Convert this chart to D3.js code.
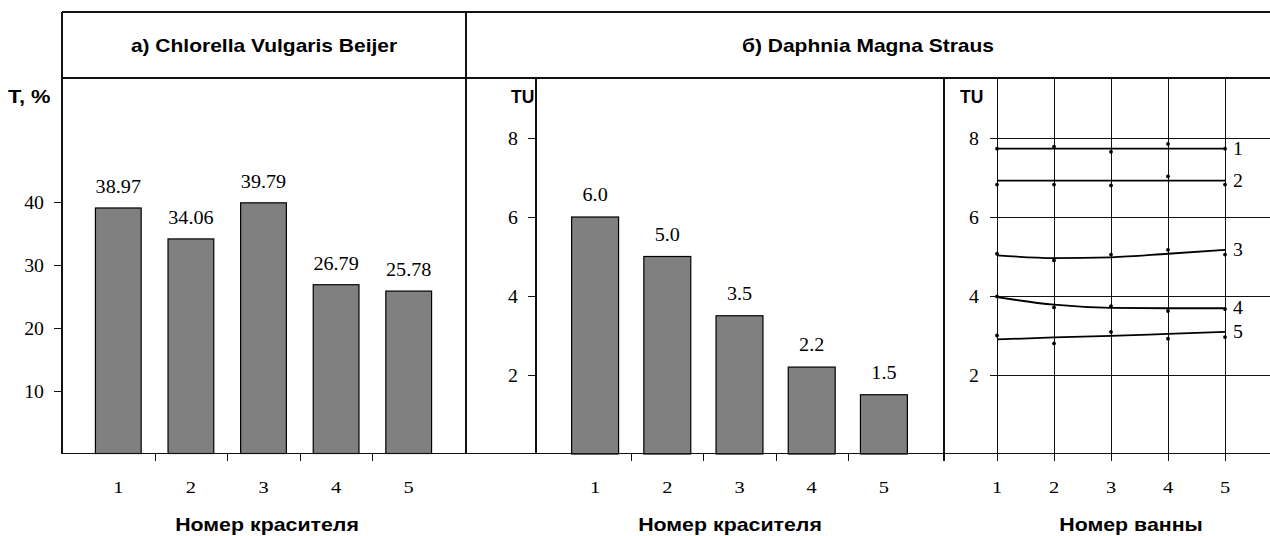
<!DOCTYPE html>
<html>
<head>
<meta charset="utf-8">
<script src="https://cdn.jsdelivr.net/npm/d3@7"></script>
<style>
  html, body { margin: 0; padding: 0; background: #fff; }
  svg { display: block; }
  .serif { font-family: "Liberation Serif", "Times New Roman", Times, serif; }
  .sans { font-family: "Liberation Sans", Arial, Helvetica, sans-serif; }
</style>
</head>
<body>
<svg id="chart" width="1270" height="536"></svg>
<script>
// ---------------- data ----------------
const dyeCategories = ["1", "2", "3", "4", "5"];
const chlorellaValues = [38.97, 34.06, 39.79, 26.79, 25.78];
const chlorellaLabels = ["38.97", "34.06", "39.79", "26.79", "25.78"];
const daphniaValues = [6.0, 5.0, 3.5, 2.2, 1.5];
const daphniaLabels = ["6.0", "5.0", "3.5", "2.2", "1.5"];
const chlorellaTicks = [10, 20, 30, 40];
const tuTicks = [2, 4, 6, 8];
const bathNumbers = [1, 2, 3, 4, 5];
const bathSeriesNames = ["1", "2", "3", "4", "5"];
// measured points per series (dyes 1..5) over baths 1..5
const bathPoints1 = [7.73, 7.78, 7.65, 7.85, 7.73];
const bathPoints2 = [6.82, 6.82, 6.80, 7.03, 6.82];
const bathPoints3 = [5.07, 4.90, 5.05, 5.17, 5.05];
const bathPoints4 = [3.99, 3.71, 3.74, 3.62, 3.67];
const bathPoints5 = [3.00, 2.80, 3.09, 2.92, 2.96];
// trend lines per series
const bathTrend1 = [7.73, 7.73, 7.73, 7.73, 7.73];
const bathTrend2 = [6.92, 6.92, 6.92, 6.92, 6.92];
const bathTrend3 = [5.03, 4.96, 4.98, 5.07, 5.17];
const bathTrend4 = [3.97, 3.78, 3.70, 3.69, 3.69];
const bathTrend5 = [2.90, 2.95, 2.99, 3.04, 3.09];
const headerTitleA = "a) Chlorella Vulgaris Beijer";
const headerTitleB = "б) Daphnia Magna Straus";
const yTitleA = "T, %";
const yTitleB = "TU";
const xTitleDye = "Номер красителя";
const xTitleBath = "Номер ванны";

// ---------------- drawing ----------------
const svg = d3.select("#chart");
const SX = 1.2;          // horizontal text stretch of the original
const LINE = "#111";

function txt(g, x, y, s, opts) {
  opts = opts || {};
  return g.append("text")
    .attr("class", opts.sans ? "sans" : "serif")
    .attr("transform", `translate(${x},${y}) scale(${opts.sx || SX},1)`)
    .attr("text-anchor", opts.anchor || "middle")
    .attr("font-size", opts.size || 16)
    .attr("font-weight", opts.weight || "normal")
    .attr("dominant-baseline", opts.baseline || "auto")
    .attr("fill", "#000")
    .text(s);
}
function line(g, x1, y1, x2, y2, w) {
  g.append("line").attr("x1", x1).attr("y1", y1).attr("x2", x2).attr("y2", y2)
    .attr("stroke", LINE).attr("stroke-width", w || 1).attr("shape-rendering", "crispEdges");
}

const frameLeft = 62, frameRight = 1270, frameTop = 12, headerBottom = 78, axisY = 453.5;
const dividerAB = 466, axisB = 536, dividerBC = 944;

// scales
const xA = d3.scaleBand().domain(dyeCategories).range([82, 445]).paddingInner(0.37).paddingOuter(0.185);
const yA = d3.scaleLinear().domain([0, 60]).range([axisY, 75.5]);
const xB = d3.scaleBand().domain(dyeCategories).range([559, 920]).paddingInner(0.35).paddingOuter(0.175);
const yB = d3.scaleLinear().domain([0, 9.5]).range([454, 78.75]);
const xC = d3.scaleLinear().domain([1, 5]).range([997, 1225]);
const yC = d3.scaleLinear().domain([0, 9.5]).range([454, 78.75]);

const g = svg.append("g");

// right panel grid (drawn first)
tuTicks.forEach(t => line(g, 990, Math.round(yC(t)) + 0.5, frameRight, Math.round(yC(t)) + 0.5));
bathNumbers.forEach(b => line(g, Math.round(xC(b)) + 0.5, headerBottom, Math.round(xC(b)) + 0.5, 461));

// bars A
g.selectAll("rect.a").data(chlorellaValues).join("rect")
  .attr("x", (d, i) => xA(dyeCategories[i]))
  .attr("y", d => yA(d))
  .attr("width", xA.bandwidth())
  .attr("height", d => axisY - yA(d))
  .attr("fill", "#808080").attr("stroke", "#000").attr("stroke-width", 1.2);
chlorellaValues.forEach((d, i) => {
  txt(g, xA(dyeCategories[i]) + xA.bandwidth() / 2, yA(d) - 15, chlorellaLabels[i], { size: 18, sx: 1.12 });
});

// bars B
g.selectAll("rect.b").data(daphniaValues).join("rect")
  .attr("x", (d, i) => xB(dyeCategories[i]))
  .attr("y", d => yB(d))
  .attr("width", xB.bandwidth())
  .attr("height", d => 454 - yB(d))
  .attr("fill", "#808080").attr("stroke", "#000").attr("stroke-width", 1.2);
daphniaValues.forEach((d, i) => {
  txt(g, xB(dyeCategories[i]) + xB.bandwidth() / 2, yB(d) - 16, daphniaLabels[i], { size: 18, sx: 1.12 });
});

// frame
line(g, frameLeft, frameTop, frameRight, frameTop, 1.3);
line(g, frameLeft, headerBottom, frameRight, headerBottom, 1.3);
line(g, frameLeft, frameTop, frameLeft, axisY, 1.3);
line(g, dividerAB, frameTop, dividerAB, axisY, 1.3);
line(g, axisB, headerBottom, axisB, axisY, 1.2);
line(g, dividerBC, headerBottom, dividerBC, 461, 1.2);
line(g, frameLeft, axisY, frameRight, axisY, 1.3);

// y ticks A
chlorellaTicks.forEach(t => {
  const y = Math.round(yA(t)) + 0.5;
  line(g, 54, y, frameLeft, y);
  txt(g, 44, y, String(t), { anchor: "end", size: 18, baseline: "central", sx: 1.1 });
});
// y ticks B
tuTicks.forEach(t => {
  const y = Math.round(yB(t)) + 0.5;
  line(g, 528, y, axisB, y);
  txt(g, 518, y, String(t), { anchor: "end", size: 18, baseline: "central", sx: 1.1 });
});
// y ticks C
tuTicks.forEach(t => {
  const y = Math.round(yC(t)) + 0.5;
  txt(g, 979, y, String(t), { anchor: "end", size: 18, baseline: "central", sx: 1.1 });
});

// x ticks A and B (between categories)
[xA, xB].forEach(sc => {
  const step = sc.step();
  const r0 = sc.range()[0];
  for (let k = 1; k < dyeCategories.length; k++) {
    const x = Math.round(r0 + step * k) + 0.5;
    line(g, x, axisY, x, 461);
  }
  dyeCategories.forEach(c => txt(g, sc(c) + sc.bandwidth() / 2, 493, c, { size: 17, sx: 1.2 }));
});
bathNumbers.forEach(b => txt(g, xC(b), 493, String(b), { size: 17, sx: 1.2 }));

// right panel trend lines and points
const trends = [bathTrend1, bathTrend2, bathTrend3, bathTrend4, bathTrend5];
const points = [bathPoints1, bathPoints2, bathPoints3, bathPoints4, bathPoints5];
const lineGen = d3.line().x((d, i) => xC(bathNumbers[i])).y(d => yC(d)).curve(d3.curveMonotoneX);
trends.forEach((tr, si) => {
  g.append("path").attr("d", lineGen(tr)).attr("fill", "none")
    .attr("stroke", "#000").attr("stroke-width", 1.8);
  g.selectAll(null).data(points[si]).join("circle")
    .attr("cx", (d, i) => xC(bathNumbers[i]))
    .attr("cy", d => yC(d))
    .attr("r", 1.9).attr("fill", "#000");
  txt(g, xC(5) + 8, yC(tr[tr.length - 1]), bathSeriesNames[si], { anchor: "start", size: 18, baseline: "central", sx: 1.1 });
});

// headers and titles
txt(g, 264, 52, headerTitleA, { sans: true, weight: "bold", size: 17.5, sx: 1.2 });
txt(g, 868, 52, headerTitleB, { sans: true, weight: "bold", size: 17.5, sx: 1.2 });
txt(g, 8, 103, yTitleA, { sans: true, weight: "bold", size: 17.5, anchor: "start", sx: 1.25 });
txt(g, 511, 103, yTitleB, { sans: true, weight: "bold", size: 17.5, anchor: "start", sx: 1.0 });
txt(g, 960, 103, yTitleB, { sans: true, weight: "bold", size: 17.5, anchor: "start", sx: 1.0 });
txt(g, 267, 531, xTitleDye, { sans: true, weight: "bold", size: 17.5, sx: 1.22 });
txt(g, 730, 531, xTitleDye, { sans: true, weight: "bold", size: 17.5, sx: 1.22 });
txt(g, 1131, 531, xTitleBath, { sans: true, weight: "bold", size: 17.5, sx: 1.22 });
</script>
</body>
</html>
